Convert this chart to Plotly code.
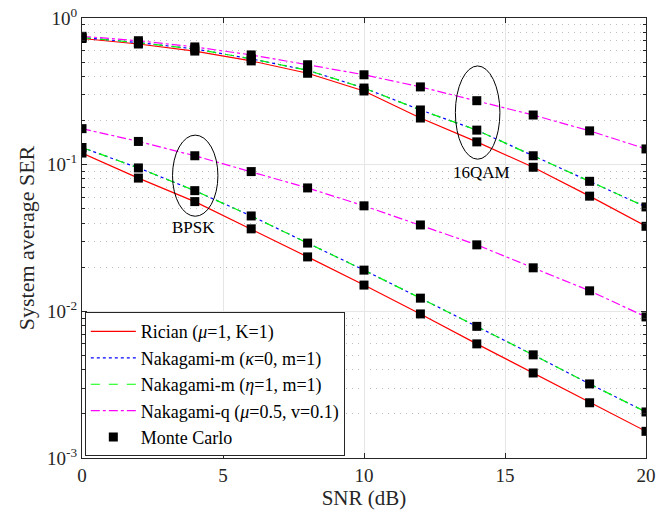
import plotly.graph_objects as go

snr = [0, 2, 4, 6, 8, 10, 12, 14, 16, 18, 20]

# BPSK
bpsk_rician = [0.120, 0.081, 0.056, 0.0365, 0.0235, 0.0151, 0.0096, 0.0060, 0.0038, 0.00238, 0.00152]
bpsk_nak_m = [0.131, 0.095, 0.0665, 0.0447, 0.0292, 0.0191, 0.0123, 0.0079, 0.00505, 0.0032, 0.00206]
bpsk_nak_q = [0.176, 0.144, 0.115, 0.0897, 0.0694, 0.0524, 0.0388, 0.0284, 0.0198, 0.0138, 0.00916]

# 16QAM
qam_rician = [0.725, 0.665, 0.595, 0.510, 0.420, 0.318, 0.208, 0.143, 0.096, 0.061, 0.038]
qam_nak_m = [0.735, 0.680, 0.615, 0.527, 0.440, 0.333, 0.236, 0.172, 0.115, 0.077, 0.0515]
qam_nak_q = [0.750, 0.700, 0.635, 0.560, 0.480, 0.410, 0.339, 0.273, 0.218, 0.170, 0.128]

names = ["Rician (<i>μ</i>=1, K=1)",
         "Nakagami-m (<i>κ</i>=0, m=1)",
         "Nakagami-m (<i>η</i>=1, m=1)",
         "Nakagami-q (<i>μ</i>=0.5, v=0.1)",
         "Monte Carlo"]

font = "Liberation Serif"
fig = go.Figure()

series = [
    (names[0], [bpsk_rician, qam_rician], "#ff0000", "solid"),
    (names[1], [bpsk_nak_m, qam_nak_m], "#0000ff", "dot"),
    (names[2], [bpsk_nak_m, qam_nak_m], "#00ff00", "dash"),
    (names[3], [bpsk_nak_q, qam_nak_q], "#ff00ff", "dashdot"),
]
for i, (name, curves, color, dash) in enumerate(series):
    for j, ys in enumerate(curves):
        fig.add_trace(go.Scatter(
            x=snr, y=ys, mode="lines", name=name, legendgroup=name,
            showlegend=(j == 0), legendrank=i + 1,
            line=dict(color=color, width=1.2, dash=dash)))

mc = [bpsk_rician, bpsk_nak_m, bpsk_nak_q, qam_rician, qam_nak_m, qam_nak_q]
for k, ys in enumerate(mc):
    fig.add_trace(go.Scatter(
        x=snr, y=ys, mode="markers", name=names[4], legendgroup="mc",
        showlegend=(k == 0), legendrank=5,
        marker=dict(symbol="square", size=9, color="black")))

# ellipses
fig.add_shape(type="circle", xref="x", yref="y", x0=3.21, x1=4.82, y0=0.0445, y1=0.159,
              line=dict(color="black", width=1))
fig.add_shape(type="circle", xref="x", yref="y", x0=13.24, x1=14.82, y0=0.109, y1=0.471,
              line=dict(color="black", width=1))
fig.add_annotation(x=3.94, y=-1.425, xref="x", yref="y", text="BPSK", showarrow=False,
                   font=dict(family=font, size=17, color="black"))
fig.add_annotation(x=14.15, y=-1.05, xref="x", yref="y", text="16QAM", showarrow=False,
                   font=dict(family=font, size=17, color="black"))

axis_common = dict(showline=True, linecolor="#262626", linewidth=1, mirror="ticks",
                   ticks="inside", ticklen=5, tickcolor="#262626", automargin=False,
                   tickfont=dict(family=font, size=19, color="#262626"),
                   showgrid=True, gridcolor="#e6e6e6", gridwidth=1, zeroline=False)

fig.update_xaxes(range=[0, 20], tickvals=[0, 5, 10, 15, 20],
                 title=dict(text="SNR (dB)", font=dict(family=font, size=21, color="#262626"), standoff=4),
                 **axis_common)

minor_vals = [m * 10 ** e for e in (-3, -2, -1) for m in range(2, 10)]
fig.update_yaxes(type="log", range=[-3, 0], tickvals=[1e-3, 1e-2, 1e-1, 1],
                 ticktext=["10<sup>-3</sup>", "10<sup>-2</sup>", "10<sup>-1</sup>", "10<sup>0</sup>"],
                 title=dict(text="System average SER", font=dict(family=font, size=22, color="#262626"), standoff=6),
                 minor=dict(tickvals=minor_vals, ticks="inside", ticklen=3, tickcolor="#262626",
                            showgrid=True, gridcolor="#bdbdbd", griddash="1px,5px", gridwidth=1),
                 **axis_common)

fig.update_layout(
    width=670, height=519,
    margin=dict(l=82, r=24, t=18, b=61),
    plot_bgcolor="white", paper_bgcolor="white",
    font=dict(family=font, color="black"),
    legend=dict(x=0.005, y=0.004, xanchor="left", yanchor="bottom",
                bgcolor="white", bordercolor="#262626", borderwidth=1,
                font=dict(family=font, size=18, color="black"),
                itemwidth=45, tracegroupgap=0, traceorder="normal"),
)

fig.write_html("out.html",
               config={"displayModeBar": False},
               post_script="document.body.style.margin='0';document.body.style.overflow='hidden';")
